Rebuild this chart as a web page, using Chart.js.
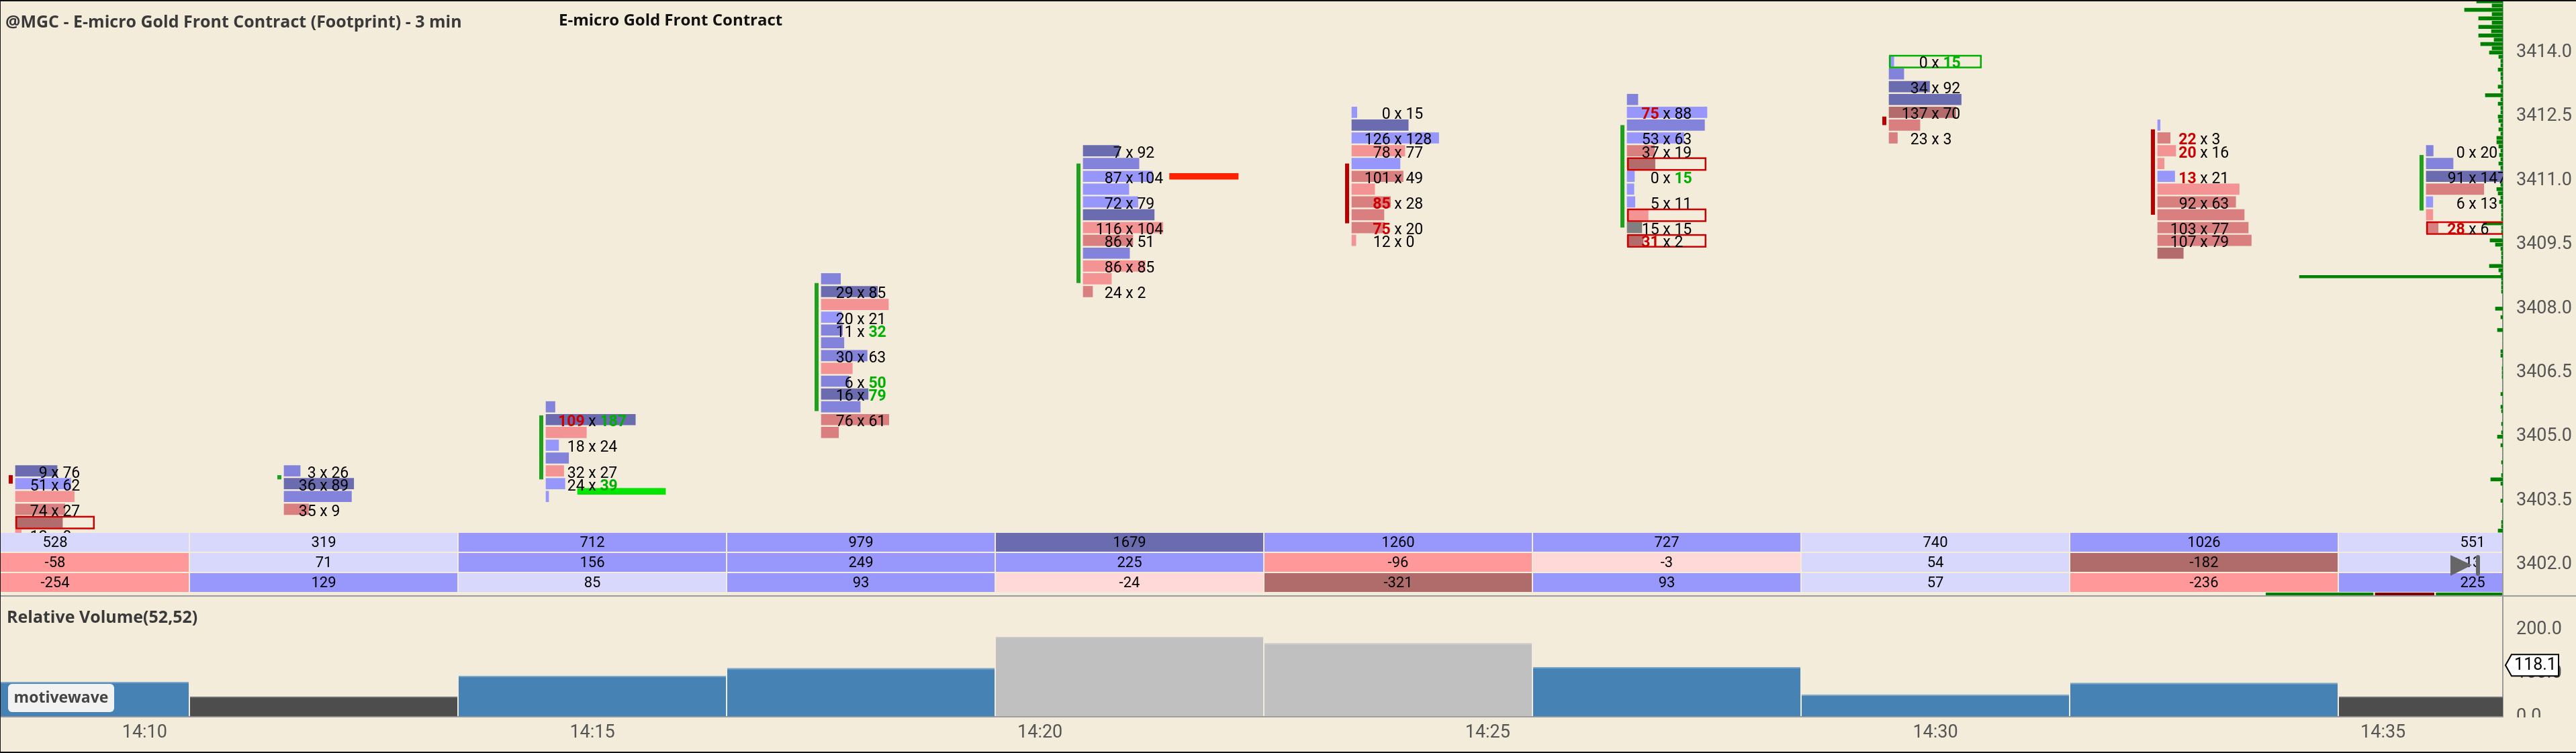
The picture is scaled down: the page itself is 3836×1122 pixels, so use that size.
<!DOCTYPE html>
<html>
<head>
<meta charset="utf-8">
<script src="https://cdn.jsdelivr.net/npm/chart.js@4.4.1/dist/chart.umd.min.js"></script>
<style>
    html, body { margin: 0; padding: 0; background: #f4ecdb; }
    #wrap { position: relative; width: 3836px; height: 1122px; overflow: hidden; background: #f4ecdb; }
    #main { position: absolute; left: 0; top: 0; }
    #rv { position: absolute; left: 0; top: 887px; }
    #frame { position: absolute; left: 0; top: 0; width: 3836px; height: 1122px; box-sizing: border-box;
             border-top: 2px solid #111; border-left: 1px solid #111; border-bottom: 2px solid #111; pointer-events: none; }
</style>
</head>
<body>
<div id="wrap">
    <canvas id="main" width="3836" height="887"></canvas>
    <canvas id="rv" width="3836" height="235"></canvas>
    <div id="frame"></div>
</div>
<script>
// =======================================
// DATA
// =======================================
// bars, in minutes after 14:00 (3 min footprint)
const barTime  = [9, 12, 15, 18, 21, 24, 27, 30, 33, 36];
const barOpen  = [3404.1, 3404.0, 3404.0, 3405.6, 3408.6, 3411.4, 3409.9, 3412.5, 3412.2, 3410.3];
const barClose = [3403.9, 3404.1, 3405.5, 3408.6, 3411.4, 3410.0, 3412.3, 3412.3, 3410.2, 3411.6];

// footprint rows: top price of each bar, then rows every 0.3 going down
const ROW_STEP = 0.3;
const fpTop = [3404.2, 3404.2, 3405.7, 3408.7, 3411.7, 3412.6, 3412.9, 3413.8, 3412.3, 3411.7];
const fpBid = [
    [9, 51, 64, 74, 80, 12],
    [3, 36, 45, 35],
    [5, 109, 72, 18, 27, 32, 24, 4],
    [10, 29, 70, 20, 11, 13, 30, 34, 6, 16, 28, 76, 25],
    [7, 64, 87, 58, 72, 70, 116, 86, 50, 86, 44, 24],
    [0, 55, 126, 78, 66, 101, 36, 85, 62, 75, 12],
    [1, 75, 68, 53, 37, 50, 0, 5, 5, 27, 15, 31],
    [0, 12, 34, 80, 137, 60, 23],
    [2, 22, 20, 8, 13, 86, 92, 100, 103, 107, 44],
    [0, 26, 91, 100, 6, 11, 28]
];
const fpAsk = [
    [76, 62, 56, 27, 16, 0],
    [26, 89, 76, 9],
    [25, 187, 62, 24, 48, 27, 39, 5],
    [29, 85, 66, 21, 32, 33, 63, 29, 50, 79, 51, 61, 10],
    [92, 90, 104, 68, 79, 126, 104, 51, 78, 85, 34, 2],
    [15, 110, 128, 77, 75, 49, 31, 28, 32, 20, 0],
    [21, 88, 90, 63, 19, 7, 15, 9, 11, 16, 15, 2],
    [15, 34, 92, 144, 70, 36, 3],
    [3, 3, 16, 5, 21, 76, 63, 72, 77, 79, 7],
    [20, 51, 147, 65, 13, 8, 6]
];
// 1 = the "bid x ask" numbers are printed on that row
const fpShown = [
    [1, 1, 0, 1, 0, 1],
    [1, 1, 0, 1],
    [0, 1, 0, 1, 0, 1, 1, 0],
    [0, 1, 0, 1, 1, 0, 1, 0, 1, 1, 0, 1, 0],
    [1, 0, 1, 0, 1, 0, 1, 1, 0, 1, 0, 1],
    [1, 0, 1, 1, 0, 1, 0, 1, 0, 1, 1],
    [0, 1, 0, 1, 1, 0, 1, 0, 1, 0, 1, 1],
    [1, 0, 1, 0, 1, 0, 1],
    [0, 1, 1, 0, 1, 0, 1, 0, 1, 1, 0],
    [1, 0, 1, 0, 1, 0, 1]
];
// [bar, row]
const bidImbalance = [[2, 1], [5, 7], [5, 9], [6, 1], [6, 11], [8, 1], [8, 2], [8, 4], [9, 6]];
const askImbalance = [[2, 1], [2, 6], [3, 4], [3, 8], [3, 9], [6, 6], [7, 0]];
const redBoxes = [[0, 4], [6, 5], [6, 9], [6, 11], [9, 6]];
const greenBoxes = [[7, 0]];

// imbalance markers and level line (price, from/to in minutes)
const markPrice = [3403.72, 3411.1];
const markFrom  = [14.835, 21.447];
const markTo    = [15.818, 22.215];
const markUp    = [true, false];
const levelPrice = 3408.75;
const levelFrom  = 34.066;

// table under the bars
const tblVolume = [528, 319, 712, 979, 1679, 1260, 727, 740, 1026, 551];
const tblDelta  = [-58, 71, 156, 249, 225, -96, -3, 54, -182, 13];
const tblThird  = [-254, 129, 85, 93, -24, -321, 93, 57, -236, 225];

// strip under the table
const stripFrom = [33.69, 34.91, 35.59];
const stripTo   = [34.90, 35.58, 36.50];
const stripUp   = [true, false, true];

// session volume profile at right edge, from 3415.2 down by 0.1
const profileTop = 3415.2;
const profileVol = [
    39, 16, 57, 16, 36, 16, 36, 17, 36, 13, 33, 16, 20, 6, 3, 3, 7, 3, 3, 2,
    7, 3, 26, 3, 7, 3, 3, 7, 6, 3, 6, 3, 9, 9, 6, 3, 5, 3, 6, 3,
    3, 3, 3, 3, 9, 7, 3, 5, 2, 2, 2, 2, 29, 2, 2, 1, 19, 11, 3, 2,
    2, 2, 20, 6, 3, 2, 2, 2, 2, 0, 0, 0, 11, 0, 3, 0, 0, 8, 0, 0,
    0, 0, 3, 3, 0, 0, 1, 1, 1, 0, 0, 0, 3, 0, 0, 3, 2, 0, 0, 2,
    0, 2, 8, 0, 3, 0, 0, 0, 2, 0, 0, 2, 18, 3, 0, 0, 0, 3, 0, 0,
    0, 0, 2, 2, 7
];

// relative volume
const relVol = [80, 46, 94, 112, 183, 169, 114, 51, 78, 46];
const relVolLast = 118.1;

// axis ticks
const priceTicks = [3402.0, 3403.5, 3405.0, 3406.5, 3408.0, 3409.5, 3411.0, 3412.5, 3414.0];
const relVolTicks = [0, 100, 200];
const timeTicks = [10, 15, 20, 25, 30, 35];

// =======================================
// LAYOUT / STYLE
// =======================================
const BG = '#f4ecdb';
const AXIS_W = 109;
const PX_PER_MIN = 400 / 3;
const X_MIN = 8.385, X_MAX = 36.3375;
const Y_MIN = 3401.285, Y_MAX = 3415.231;
const fpPxPerLot = [0.73, 0.83, 0.45, 0.735, 0.54, 0.51, 0.73, 0.48, 0.75, 0.52];
const volShade   = [0, 0, 1, 1, 2, 1, 1, 0, 1, 0];
const deltaShade = [1, 0, 1, 1, 1, 1, 0, 0, 2, 0];
const thirdShade = [1, 1, 0, 1, 0, 2, 1, 0, 1, 1];
const BLUE_CELL = ['#d8d8fc', '#9797fc', '#6b6bb0'];
const RED_CELL  = ['#ffd8d8', '#ff9898', '#b06b6b'];
const FP_FONT = '23px Roboto';
const FP_FONT_BOLD = 'bold 23px Roboto';
const TITLE_FONT = '"Open Sans", Roboto, sans-serif';

Chart.defaults.font.family = 'Roboto, "Noto Sans", sans-serif';
Chart.defaults.color = '#555';

function rowColor(bid, ask) {
    const d = ask - bid, a = Math.abs(d), r = a / Math.max(1, bid + ask);
    if (d === 0) return '#808080';
    if (d > 0) return a <= 18 ? '#9797fb' : (a <= 45 ? '#8383dc' : '#6b6bb0');
    if (a <= 12) return '#f39393';
    if (a > 60 || (r >= 0.6 && a >= 25)) return '#b36b6b';
    return '#da7f7f';
}

// ============================
// FOOTPRINT DATASETS
// ============================
const fpLeft = [];
const fpData = [];
const fpColors = [];
barTime.forEach((t, k) => {
    const digits = Math.max(...fpBid[k].concat(fpAsk[k]).map(v => String(v).length));
    const left = t - (digits >= 3 ? 69 : 59) / PX_PER_MIN;
    fpLeft.push(left);
    fpBid[k].forEach((b, i) => {
        const vol = b + fpAsk[k][i];
        fpData.push({ y: fpTop[k] - ROW_STEP * i, x: [left, left + vol * fpPxPerLot[k] / PX_PER_MIN] });
        fpColors.push(rowColor(b, fpAsk[k][i]));
    });
});

const markData = markPrice.map((p, i) => ({ y: p, x: [markFrom[i], markTo[i]] }));
const levelData = [{ y: levelPrice, x: [levelFrom, X_MAX + 1] }];
const profData = profileVol.map((v, i) => ({ y: profileTop - 0.1 * i, x: [X_MAX - v / PX_PER_MIN, X_MAX] }));

const bidHotSet = new Set(bidImbalance.map(p => p.join(':')));
const askHotSet = new Set(askImbalance.map(p => p.join(':')));

// ============================
// PLUGIN: text, candles, boxes, table
// ============================
const footprintExtras = {
    id: 'footprintExtras',
    afterDatasetsDraw(chart) {
        const { ctx, chartArea: ca, scales: { x, y } } = chart;
        ctx.save();
        ctx.beginPath();
        ctx.rect(ca.left, ca.top, ca.right - ca.left, ca.bottom - ca.top);
        ctx.clip();

        // candle body lines
        barTime.forEach((t, k) => {
            const lx = x.getPixelForValue(fpLeft[k]);
            const yHi = y.getPixelForValue(Math.max(barOpen[k], barClose[k]));
            const yLo = y.getPixelForValue(Math.min(barOpen[k], barClose[k]));
            ctx.fillStyle = barClose[k] >= barOpen[k] ? '#1fa01f' : '#bb0000';
            ctx.fillRect(lx - 10, yHi, 6, Math.max(yLo - yHi, 5));
        });

        // outlined rows
        const drawBoxes = (list, color) => list.forEach(([k, i]) => {
            const cx = x.getPixelForValue(barTime[k]);
            const lx = x.getPixelForValue(fpLeft[k]);
            const yc = y.getPixelForValue(fpTop[k] - ROW_STEP * i);
            ctx.strokeStyle = color;
            ctx.lineWidth = 2.5;
            ctx.strokeRect(lx + 1.25, yc - 8, 2 * (cx - lx) - 2.5, 17.5);
        });
        drawBoxes(redBoxes, '#cc0000');
        drawBoxes(greenBoxes, '#00b000');

        // bid x ask numbers
        ctx.textBaseline = 'alphabetic';
        barTime.forEach((t, k) => {
            const cx = x.getPixelForValue(t);
            fpBid[k].forEach((b, i) => {
                if (!fpShown[k][i]) return;
                const a = fpAsk[k][i];
                const yb = y.getPixelForValue(fpTop[k] - ROW_STEP * i) + 10;
                ctx.font = FP_FONT;
                const xw = ctx.measureText('x').width;
                const sp = ctx.measureText(' ').width;
                ctx.fillStyle = '#000';
                ctx.textAlign = 'center';
                ctx.fillText('x', cx, yb);
                const bh = bidHotSet.has(k + ':' + i);
                const ah = askHotSet.has(k + ':' + i);
                ctx.font = bh ? FP_FONT_BOLD : FP_FONT;
                ctx.fillStyle = bh ? '#cc0000' : '#000';
                ctx.textAlign = 'right';
                ctx.fillText(String(b), cx - xw / 2 - sp, yb);
                ctx.font = ah ? FP_FONT_BOLD : FP_FONT;
                ctx.fillStyle = ah ? '#00b000' : '#000';
                ctx.textAlign = 'left';
                ctx.fillText(String(a), cx + xw / 2 + sp, yb);
            });
        });
        ctx.restore();

        // table
        ctx.save();
        ctx.beginPath();
        ctx.rect(ca.left, ca.top, ca.right - ca.left - 1, ca.bottom - ca.top);
        ctx.clip();
        const tableRows = [[tblVolume, volShade, true], [tblDelta, deltaShade, false], [tblThird, thirdShade, false]];
        ctx.font = '22px Roboto';
        ctx.textAlign = 'center';
        ctx.textBaseline = 'middle';
        tableRows.forEach(([vals, shade, isVol], r) => {
            const top = ca.bottom - 93 + r * 30;
            vals.forEach((v, k) => {
                const xl = x.getPixelForValue(barTime[k] - 1.5) + 1;
                const xr = x.getPixelForValue(barTime[k] + 1.5) - 1;
                ctx.fillStyle = (isVol || v >= 0 ? BLUE_CELL : RED_CELL)[shade[k]];
                ctx.fillRect(xl, top, xr - xl, 28);
                ctx.fillStyle = '#000';
                ctx.fillText(String(v), x.getPixelForValue(barTime[k]), top + 15);
            });
        });
        stripFrom.forEach((f, i) => {
            const xl = x.getPixelForValue(f);
            const xr = x.getPixelForValue(stripTo[i]);
            ctx.fillStyle = stripUp[i] ? '#008000' : '#800000';
            ctx.fillRect(xl, ca.bottom - 4, xr - xl - 1, 4);
        });
        // scroll-to-end icon
        ctx.fillStyle = '#666';
        ctx.beginPath();
        ctx.moveTo(ca.right - 78, ca.bottom - 60);
        ctx.lineTo(ca.right - 46, ca.bottom - 45);
        ctx.lineTo(ca.right - 78, ca.bottom - 29);
        ctx.closePath();
        ctx.fill();
        ctx.beginPath();
        ctx.roundRect(ca.right - 40, ca.bottom - 60, 6, 31, 3);
        ctx.fill();
        ctx.restore();
    },
    afterDraw(chart) {
        const { ctx } = chart;
        ctx.save();
        ctx.textBaseline = 'middle';
        ctx.textAlign = 'left';
        ctx.font = 'bold 25px ' + TITLE_FONT;
        ctx.fillStyle = '#3a3a3a';
        ctx.fillText('@MGC - E-micro Gold Front Contract (Footprint) - 3 min', 8, 34);
        ctx.font = 'bold 24px ' + TITLE_FONT;
        ctx.fillStyle = '#111';
        ctx.fillText('E-micro Gold Front Contract', 832, 31);
        ctx.restore();
    }
};

// ============================
// MAIN FOOTPRINT CHART
// ============================
new Chart(document.getElementById('main'), {
    type: 'bar',
    data: {
        datasets: [
            { label: 'imbalance', data: markData, backgroundColor: markUp.map(u => u ? '#00e600' : '#ff2200'), barThickness: 9, grouped: false, order: 0 },
            { label: 'footprint', data: fpData, backgroundColor: fpColors, barThickness: 16, grouped: false, order: 1 },
            { label: 'level', data: levelData, backgroundColor: '#008000', barThickness: 4, grouped: false, order: 2 },
            { label: 'profile', data: profData, backgroundColor: '#008000', barThickness: 5, grouped: false, order: 3 }
        ]
    },
    options: {
        indexAxis: 'y',
        responsive: false,
        animation: false,
        events: [],
        layout: { padding: 0 },
        plugins: { legend: { display: false }, tooltip: { enabled: false } },
        scales: {
            x: { type: 'linear', display: false, min: X_MIN, max: X_MAX, offset: false },
            y: {
                type: 'linear', position: 'right', min: Y_MIN, max: Y_MAX, offset: false,
                grid: { drawOnChartArea: false, drawTicks: false },
                border: { display: true, color: '#9a9a9a', width: 2 },
                afterBuildTicks: s => { s.ticks = priceTicks.map(v => ({ value: v })); },
                afterFit: s => { s.width = AXIS_W; s.paddingTop = 0; s.paddingBottom = 0; },
                ticks: { padding: 20, color: '#555', font: { size: 27 }, autoSkip: false, callback: v => Number(v).toFixed(1) }
            }
        }
    },
    plugins: [footprintExtras]
});

// ============================
// RELATIVE VOLUME PANEL
// ============================
const relVolExtras = {
    id: 'relVolExtras',
    afterDatasetsDraw(chart) {
        const { ctx } = chart;
        ctx.save();
        ctx.textBaseline = 'middle';
        ctx.textAlign = 'left';
        ctx.font = 'bold 25px ' + TITLE_FONT;
        ctx.fillStyle = '#3a3a3a';
        ctx.fillText('Relative Volume(52,52)', 10, 34);
        ctx.fillStyle = '#f2f2f2';
        ctx.beginPath();
        ctx.roundRect(12, 132, 158, 42, 6);
        ctx.fill();
        ctx.fillStyle = '#444';
        ctx.font = 'bold 23px ' + TITLE_FONT;
        ctx.textAlign = 'center';
        ctx.fillText('motivewave', 91, 153);
        ctx.restore();
    },
    afterDraw(chart) {
        const { ctx, chartArea: ca, scales: { y } } = chart;
        ctx.save();
        ctx.fillStyle = '#9a9a9a';
        ctx.fillRect(0, 0, chart.width, 2);
        ctx.fillStyle = BG;
        ctx.fillRect(ca.right + 2, ca.bottom + 1, chart.width, chart.height);
        // current value label
        const yv = y.getPixelForValue(relVolLast);
        const L = ca.right + 4, R = ca.right + 83;
        ctx.beginPath();
        ctx.moveTo(L, yv);
        ctx.lineTo(L + 9, yv - 16);
        ctx.lineTo(R, yv - 16);
        ctx.lineTo(R, yv + 16);
        ctx.lineTo(L + 9, yv + 16);
        ctx.closePath();
        ctx.fillStyle = '#fff';
        ctx.fill();
        ctx.strokeStyle = '#000';
        ctx.lineWidth = 2;
        ctx.stroke();
        ctx.fillStyle = '#000';
        ctx.font = '25px Roboto';
        ctx.textAlign = 'center';
        ctx.textBaseline = 'middle';
        ctx.fillText(relVolLast.toFixed(1), (L + R) / 2 + 5, yv + 1);
        ctx.restore();
    }
};

const relColor = v => v < 50 ? '#4d4d4d' : (v > 150 ? '#c0c0c0' : '#4682b4');
const relEdge = v => v < 50 ? '#707070' : (v > 150 ? '#c8c8c8' : '#7aa6cc');

new Chart(document.getElementById('rv'), {
    type: 'bar',
    data: {
        datasets: [{
            label: 'Relative Volume',
            data: barTime.map((t, i) => ({ x: t, y: relVol[i] })),
            backgroundColor: relVol.map(relColor),
            borderColor: relVol.map(relEdge),
            borderWidth: { top: 2, left: 0, right: 0, bottom: 0 },
            categoryPercentage: 1,
            barPercentage: 0.995,
            grouped: false
        }]
    },
    options: {
        responsive: false,
        animation: false,
        events: [],
        layout: { padding: 0 },
        plugins: { legend: { display: false }, tooltip: { enabled: false } },
        scales: {
            x: {
                type: 'linear', position: 'bottom', min: X_MIN, max: X_MAX, offset: false,
                grid: { drawOnChartArea: false, drawTicks: false },
                border: { display: true, color: '#9a9a9a', width: 2 },
                afterBuildTicks: s => { s.ticks = timeTicks.map(v => ({ value: v })); },
                afterFit: s => { s.height = 54; s.paddingLeft = 0; s.paddingRight = 0; },
                ticks: { padding: 8, color: '#555', font: { size: 27 }, autoSkip: false, maxRotation: 0,
                         callback: v => '14:' + String(v).padStart(2, '0') }
            },
            y: {
                type: 'linear', position: 'right', min: 0, max: 278.5, offset: false,
                grid: { drawOnChartArea: false, drawTicks: false },
                border: { display: true, color: '#9a9a9a', width: 2 },
                afterBuildTicks: s => { s.ticks = relVolTicks.map(v => ({ value: v })); },
                afterFit: s => { s.width = AXIS_W; s.paddingTop = 0; s.paddingBottom = 0; },
                ticks: { padding: 20, color: '#555', font: { size: 27 }, autoSkip: false, callback: v => Number(v).toFixed(1) }
            }
        }
    },
    plugins: [relVolExtras]
});
</script>
</body>
</html>
